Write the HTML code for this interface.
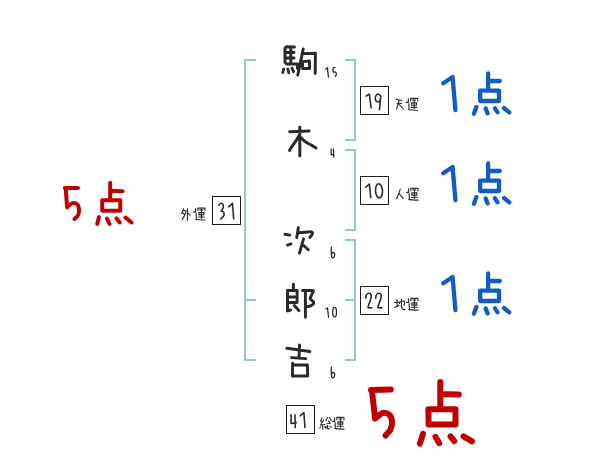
<!DOCTYPE html>
<html><head><meta charset="utf-8"><style>
html,body{margin:0;padding:0;background:#fff;width:600px;height:470px;overflow:hidden;font-family:"Liberation Sans",sans-serif}
svg{display:block}
</style></head><body>
<svg width="600" height="470" viewBox="0 0 600 470"><rect x="244" y="59" width="2" height="302" fill="#92c2e8"/>
<rect x="244" y="59" width="12" height="2" fill="#92c2e8"/>
<rect x="244" y="299" width="12" height="2" fill="#92c2e8"/>
<rect x="244" y="359" width="12" height="2" fill="#92c2e8"/>
<rect x="354" y="59" width="2" height="82" fill="#92c2e8"/>
<rect x="345" y="59" width="11" height="2" fill="#92c2e8"/>
<rect x="345" y="139" width="11" height="2" fill="#92c2e8"/>
<rect x="354" y="149" width="2" height="82" fill="#92c2e8"/>
<rect x="345" y="149" width="11" height="2" fill="#92c2e8"/>
<rect x="345" y="229" width="11" height="2" fill="#92c2e8"/>
<rect x="354" y="239" width="2" height="122" fill="#92c2e8"/>
<rect x="345" y="239" width="11" height="2" fill="#92c2e8"/>
<rect x="345" y="359" width="11" height="2" fill="#92c2e8"/>
<rect x="345" y="299" width="11" height="2" fill="#92c2e8"/>
<rect x="360.5" y="86.5" width="28" height="28" fill="none" stroke="#1c1c1c" stroke-width="1"/>
<rect x="360.5" y="176.5" width="28" height="28" fill="none" stroke="#1c1c1c" stroke-width="1"/>
<rect x="360.5" y="286.5" width="28" height="28" fill="none" stroke="#1c1c1c" stroke-width="1"/>
<rect x="212.5" y="196.5" width="28" height="28" fill="none" stroke="#1c1c1c" stroke-width="1"/>
<rect x="286.5" y="405.5" width="28" height="28" fill="none" stroke="#1c1c1c" stroke-width="1"/>
<path d="M443.3 83.3 L452.6 77 L455.4 110 M488.1 73.3 L488.1 89 M488.1 80.8 L499.8 81 M480.2 101 L480.1 90.6 L499 90.6 L499 101 L480.2 101 M476.4 107.1 L473.9 113.8 M485.7 108.4 L487.6 113.4 M495 108.3 L497.6 112.3 M504 108 L509.3 112.4" fill="none" stroke="#135cc2" stroke-width="4.3" stroke-linecap="round" stroke-linejoin="round"/>
<path d="M443.3 173.3 L452.6 167 L455.4 200 M488.1 163.3 L488.1 179 M488.1 170.8 L499.8 171 M480.2 191 L480.1 180.6 L499 180.6 L499 191 L480.2 191 M476.4 197.1 L473.9 203.8 M485.7 198.4 L487.6 203.4 M495 198.3 L497.6 202.3 M504 198 L509.3 202.4" fill="none" stroke="#135cc2" stroke-width="4.3" stroke-linecap="round" stroke-linejoin="round"/>
<path d="M443.3 283.3 L452.6 277 L455.4 310 M488.1 273.3 L488.1 289 M488.1 280.8 L499.8 281 M480.2 301 L480.1 290.6 L499 290.6 L499 301 L480.2 301 M476.4 307.1 L473.9 313.8 M485.7 308.4 L487.6 313.4 M495 308.3 L497.6 312.3 M504 308 L509.3 312.4" fill="none" stroke="#135cc2" stroke-width="4.3" stroke-linecap="round" stroke-linejoin="round"/>
<path d="M64.8 188 L78 188 M65.7 188.5 L67.1 207 M67.1 207.3 C67.98 206.62 70.72 203.7 72.4 203.2 C74.08 202.7 76.1 203.37 77.2 204.3 C78.3 205.23 78.83 207.02 79 208.8 C79.17 210.58 78.95 213.3 78.2 215 C77.45 216.7 75.12 218.33 74.5 219 M110.2 182.8 L110.2 198 M110.2 190.8 L122.6 191.2 M102.3 210.7 L102.2 200.3 L120.3 200.3 L120.3 210.7 L102.3 210.7 M99 217.1 L97.2 223.9 M107 218.6 L109.6 224 M116.5 218.4 L119.8 222.5 M125.5 217.6 L131.5 222.5" fill="none" stroke="#c00000" stroke-width="4" stroke-linecap="round" stroke-linejoin="round"/>
<path d="M371 390 L390.8 389.6 M372 391 L375 418 M375 418.5 C376.33 417.58 380.58 413.58 383 413 C385.42 412.42 388 413.58 389.5 415 C391 416.42 391.83 419.08 392 421.5 C392.17 423.92 391.58 427.17 390.5 429.5 C389.42 431.83 386.33 434.5 385.5 435.5 M440.3 382 L440.3 405 M440.3 394.1 L458.8 394.6 M428.6 424.5 L428.4 409.3 L455.5 409.3 L455.5 424.5 L428.6 424.5 M423 433.8 L419.9 443.6 M435.5 436.8 L439.2 443.2 M450.5 436.3 L454.3 441.2 M463.5 436.3 L472 441.3" fill="none" stroke="#c00000" stroke-width="6" stroke-linecap="round" stroke-linejoin="round"/>
<path d="M285 47.98 L285 62.52 M286.47 46.83 L294.53 46.97 M286.48 52.5 L294.02 52.5 M286.48 58 L294.02 58 M286.48 64 L297.5 64 L297.5 68.53 M290.8 48.27 L290.8 62.52 M303.2 48.94 L297.8 75.06 M302 53.6 L315.4 53.3 L315.2 73.4 M302.6 61.6 L302.6 68.5 L309.6 68.5 L309.4 61 L302.6 61.6 M289.6 131.7 L309.1 131 M299.8 127.2 L299.8 156 M299.4 134.9 C298.85 135.85 297.32 138.7 296.1 140.6 C294.88 142.5 293.18 144.67 292.1 146.3 C291.02 147.93 290.02 149.72 289.6 150.4 M300.6 137.2 C301.33 137.92 303.32 140.23 305 141.5 C306.68 142.77 308.87 143.73 310.7 144.8 C312.53 145.87 315.12 147.38 316 147.9 M285 234.3 L289.8 235.1 M287.6 245.1 L291 243.9 M298.3 227.8 L296.8 237.5 M298.3 232.8 C299.42 232.72 302.85 232.45 305 232.3 C307.15 232.15 309.97 231.63 311.2 231.9 C312.43 232.17 312.63 232.98 312.4 233.9 C312.17 234.82 310.23 236.82 309.8 237.4 M303.5 238.8 L299.5 253.2 M304 245.8 L308.2 249.8 M293.4 284.3 L293.4 289.5 M297.1 302.4 L297.1 290.4 L287.5 290.4 L287.5 311 M288.5 296.9 L297 296.9 M287.8 302.4 L297.1 302.4 M294.3 305.6 L298.8 310.6 M287.5 311 L290.5 310 M305.4 291 L305.4 317.2 M302.6 290.5 C303.83 290.5 308.2 290.43 310 290.5 C311.8 290.57 313.1 290.23 313.4 290.9 C313.7 291.57 312.32 293.2 311.8 294.5 C311.28 295.8 310.07 297.53 310.3 298.7 C310.53 299.87 312.7 300.62 313.2 301.5 C313.7 302.38 313.75 303.28 313.3 304 C312.85 304.72 311.48 305.37 310.5 305.8 C309.52 306.23 307.92 306.47 307.4 306.6 M286.96 348.3 L309.84 351.5 M299.54 344.97 L299.06 356.63 M291.67 357.6 L305.73 358.6 M292.5 376.2 L292.6 363.2 M292.8 365 L307.4 365 L307.7 375.9 L292.5 375.9" fill="none" stroke="#2a2a2a" stroke-width="2.95" stroke-linecap="round" stroke-linejoin="round"/>
<path d="M283.67 69.17 L282.73 72.63 M287.82 69.17 L288.78 72.93 M291.99 68.31 L293.61 71.69" fill="none" stroke="#2a2a2a" stroke-width="2.8" stroke-linecap="round" stroke-linejoin="round"/>
<ellipse cx="379" cy="190.8" rx="3.5" ry="7.1" fill="none" stroke="#2a2a2a" stroke-width="1.6" transform="rotate(-4 379 190.8)"/>
<path d="M366.19 96.16 L369.3 94 L371.12 107.71 M379.96 95.23 C379.55 95.03 378.23 93.79 377.5 94 C376.77 94.21 375.93 95.5 375.6 96.5 C375.27 97.5 375.18 99.08 375.5 100 C375.82 100.92 376.72 101.97 377.5 102 C378.28 102.03 379.68 101.18 380.2 100.2 C380.72 99.22 380.56 96.78 380.64 96.1 M380.74 96.1 L379.46 109.6 M365.85 187.1 L369.3 184 L370.74 197.4 M365.81 298.21 C365.9 297.66 365.88 295.72 366.4 294.9 C366.92 294.08 368.1 293.3 368.9 293.3 C369.7 293.3 370.88 293.98 371.2 294.9 C371.52 295.82 371.35 296.78 370.8 298.8 C370.25 300.82 368.38 305.66 367.9 307.03 M368.3 307.64 L371.8 307.86 M375.71 298.21 C375.8 297.66 375.78 295.72 376.3 294.9 C376.82 294.08 378 293.3 378.8 293.3 C379.6 293.3 380.78 293.98 381.1 294.9 C381.42 295.82 381.25 296.78 380.7 298.8 C380.15 300.82 378.28 305.66 377.8 307.03 M378.2 307.64 L381.7 307.86 M218.84 205.19 C219.18 204.88 220.17 203.35 220.9 203.3 C221.63 203.25 222.88 203.98 223.2 204.9 C223.52 205.82 223.12 207.86 222.8 208.8 C222.48 209.74 221.54 210.25 221.29 210.55 M221.46 211.22 C221.8 211.35 223.11 211.24 223.5 212 C223.89 212.76 224.26 214.65 223.8 215.8 C223.34 216.95 221.24 218.36 220.72 218.88 M228.74 206.79 L232.5 203.3 L233.65 218.6 M291.1 414.9 L291.1 423.5 L296.21 422.6 M294.92 414.9 L295.28 427.6 M300.16 415.82 L303.9 412.7 L304.96 427.4" fill="none" stroke="#2a2a2a" stroke-width="1.6" stroke-linecap="round" stroke-linejoin="round"/>
<ellipse cx="334.6" cy="312.2" rx="1.9" ry="4.8" fill="none" stroke="#2a2a2a" stroke-width="1.3"/>
<path d="M325.81 68.99 L327.4 67.7 L328.43 77.05 M333.45 67.7 L335.05 67.7 M332.86 68.65 L333.14 71.75 M333.84 72.28 C334.08 72.23 334.87 71.73 335.3 72 C335.73 72.27 336.36 73.15 336.4 73.9 C336.44 74.65 335.66 76.05 335.51 76.49 M331.12 149.05 L331.3 154.9 L333.87 154.34 M333.51 149.05 L333.69 156.95 M331.54 247.05 C331.48 247.66 331.17 249.07 331.2 250.7 C331.23 252.33 331.38 255.62 331.7 256.8 C332.02 257.98 332.62 258 333.1 257.8 C333.58 257.6 334.42 256.4 334.6 255.6 C334.78 254.8 334.52 253.5 334.2 253 C333.88 252.5 333.07 252.5 332.7 252.6 C332.33 252.7 332.1 253.41 331.98 253.58 M331.54 367.05 C331.48 367.66 331.17 369.07 331.2 370.7 C331.23 372.33 331.38 375.62 331.7 376.8 C332.02 377.98 332.62 378 333.1 377.8 C333.58 377.6 334.42 376.4 334.6 375.6 C334.78 374.8 334.52 373.5 334.2 373 C333.88 372.5 333.07 372.5 332.7 372.6 C332.33 372.7 332.1 373.41 331.98 373.58 M325.96 308.88 L327.5 308 L328.53 317.05" fill="none" stroke="#2a2a2a" stroke-width="1.3" stroke-linecap="round" stroke-linejoin="round"/>
<path d="M396.09 99.36 L401.91 100.54 M397.1 103.59 L401.5 103.41 M398.92 100.89 L396.68 108.91 M398.81 104.21 L403.19 108.59 M408.3 98.8 L408.3 102.5 M406.2 102.4 L408.5 102.4 M408.82 103.7 L409.08 108.5 M408.4 109.63 C409.08 109.69 410.95 109.89 412.5 110 C414.05 110.11 416.83 110.24 417.7 110.28 M410.59 100.9 L410.5 98.4 L417.6 98.4 L417.69 100.9 M412.5 100.1 L415.6 100.1 M411.6 105.2 L411.5 102.9 L416.6 102.9 L416.4 105.2 L411.6 105.2 M411 107.3 L417.1 107.3 M414.2 99.7 L414.2 108.7 M400.3 189.08 C400.05 189.82 399.43 191.88 398.8 193.5 C398.17 195.12 396.9 197.94 396.52 198.82 M399.19 193.73 L403.11 198.37 M408.6 188.7 L408.6 192.4 M406.5 192.3 L408.8 192.3 M409.12 193.6 L409.38 198.4 M408.7 199.53 C409.38 199.59 411.25 199.79 412.8 199.9 C414.35 200.01 417.13 200.14 418 200.18 M410.89 190.8 L410.8 188.3 L417.9 188.3 L417.99 190.8 M412.8 190 L415.9 190 M411.9 195.1 L411.8 192.8 L416.9 192.8 L416.7 195.1 L411.9 195.1 M411.3 197.2 L417.4 197.2 M414.5 189.6 L414.5 198.6 M397.1 299.6 L397.1 306.7 M394.6 302.49 L398.9 302.31 M394.57 307.47 L398.93 305.33 M399.56 303.71 L400 301.5 L404.3 301 L404.5 304.5 L403.75 305.03 M401.59 299.1 C401.55 299.75 401.4 301.6 401.4 303 C401.4 304.4 401.25 306.43 401.6 307.5 C401.95 308.57 402.9 309.07 403.5 309.4 C404.1 309.73 404.92 309.47 405.2 309.49 M408.6 298.7 L408.6 302.4 M406.5 302.3 L408.8 302.3 M409.12 303.6 L409.38 308.4 M408.7 309.53 C409.38 309.59 411.25 309.79 412.8 309.9 C414.35 310.01 417.13 310.14 418 310.18 M410.89 300.8 L410.8 298.3 L417.9 298.3 L417.99 300.8 M412.8 300 L415.9 300 M411.9 305.1 L411.8 302.8 L416.9 302.8 L416.7 305.1 L411.9 305.1 M411.3 307.2 L417.4 307.2 M414.5 299.6 L414.5 308.6 M183.59 208.78 L181.71 213.72 M182.9 210.8 C183.42 210.8 185.73 210.02 186 210.8 C186.27 211.58 185.14 214.01 184.5 215.5 C183.86 216.99 182.54 219.03 182.15 219.74 M183.01 213.21 L184.39 214.59 M187.5 208.6 L187.5 220.4 M188.02 213.21 L190.08 215.19 M195.6 208.5 L195.6 212.2 M193.5 212.1 L195.8 212.1 M196.12 213.4 L196.38 218.2 M195.7 219.33 C196.38 219.39 198.25 219.59 199.8 219.7 C201.35 219.81 204.13 219.94 205 219.98 M197.89 210.6 L197.8 208.1 L204.9 208.1 L204.99 210.6 M199.8 209.8 L202.9 209.8 M198.9 214.9 L198.8 212.6 L203.9 212.6 L203.7 214.9 L198.9 214.9 M198.3 217 L204.4 217 M201.5 209.4 L201.5 218.4 M322.26 417.76 L320.5 421 L322.72 421.89 M323.84 419.75 L320.5 425 L324.7 424.53 M322.7 424.8 L322.7 429.2 M320.31 426.79 L319.89 428.21 M324.74 426.76 L325.26 427.74 M327.37 417.57 L325.93 420.73 M329.46 417.55 L331.34 420.55 M326.9 423.76 L330.2 423.3 L328.47 420.85 M326.16 426.3 L325.84 428.5 M327.6 425.5 C327.6 426.02 327.32 428.05 327.6 428.6 C327.88 429.15 329.02 428.74 329.3 428.77 M329.99 426.03 L331.01 427.27 M334.6 417.7 L334.6 421.4 M332.5 421.3 L334.8 421.3 M335.12 422.6 L335.38 427.4 M334.7 428.53 C335.38 428.59 337.25 428.79 338.8 428.9 C340.35 429.01 343.13 429.14 344 429.18 M336.89 419.8 L336.8 417.3 L343.9 417.3 L343.99 419.8 M338.8 419 L341.9 419 M337.9 424.1 L337.8 421.8 L342.9 421.8 L342.7 424.1 L337.9 424.1 M337.3 426.2 L343.4 426.2 M340.5 418.6 L340.5 427.6" fill="none" stroke="#2e2e2e" stroke-width="1.15" stroke-linecap="round" stroke-linejoin="round"/></svg>
</body></html>
